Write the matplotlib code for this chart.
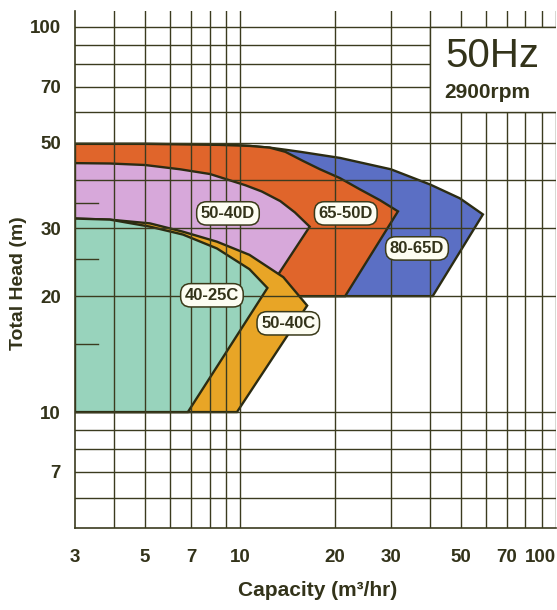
import matplotlib
matplotlib.use('Agg')
import matplotlib.pyplot as plt
from matplotlib.patches import Polygon, Rectangle

plt.rcParams['font.family'] = ['Liberation Sans', 'DejaVu Sans']

# pump areas, capacity m3/hr and head m
# top curve points, then the straight right edge down to the lowest head
q_80_65d = [3, 5, 8.63, 10.7, 12.4, 13.9, 15.5, 20.7, 30, 39.9, 49.6, 58.7]
h_80_65d = [49.7, 49.7, 49.6, 49.1, 48.6, 48.0, 47.4, 45.7, 42.7, 39.0, 35.9, 32.6]
low_80_65d = (40.7, 20)

q_65_50d = [3, 5, 8.63, 10.7, 12.4, 13.9, 15.8, 17.9, 20.7, 23.9, 27.7, 31.6]
h_65_50d = [49.7, 49.7, 49.4, 49.1, 48.6, 47.4, 44.9, 42.7, 40.5, 37.9, 35.5, 33.2]
low_65_50d = (21.5, 20)

q_50_40d = [3, 3.87, 5, 6.45, 8.03, 10.4, 11.7, 13.4, 14.9, 16.6]
h_50_40d = [44.3, 44.2, 43.8, 42.7, 41.5, 38.8, 37.4, 35.3, 33.0, 30.3]
low_50_40d = (11.9, 20)

q_50_40c = [3, 3.87, 5.18, 6.59, 8.44, 10.7, 13.7, 16.3]
h_50_40c = [31.8, 31.6, 30.9, 29.4, 27.7, 25.6, 22.4, 18.9]
low_50_40c = (9.77, 10)

q_40_25c = [3, 3.87, 5.18, 6.59, 8.44, 10.7, 12.2]
h_40_25c = [31.8, 31.6, 30.3, 28.9, 26.6, 23.5, 21.0]
low_40_25c = (6.83, 10)

models = ['80-65D', '65-50D', '50-40D', '50-40C', '40-25C']
label_q = [36.3, 21.6, 9.15, 14.2, 8.14]
label_h = [26.6, 32.8, 32.8, 17.0, 20.1]

x_ticks = [3, 5, 7, 10, 20, 30, 50, 70, 100]
y_ticks = [7, 10, 20, 30, 50, 70, 100]
x_grid = [4, 5, 6, 7, 8, 9, 10, 20, 30, 40, 50, 60, 70, 80, 90, 100]
y_grid = [6, 7, 8, 9, 10, 20, 30, 40, 50, 60, 70, 80, 90, 100]
y_short = [15, 25, 35]

colors = ['#5b6fc4', '#e0652b', '#d7a8da', '#e8a526', '#98d3bc']
grid_c = '#3b3b1f'
text_c = '#33331a'

fig = plt.figure(figsize=(5.57, 6.10), dpi=100)
ax = fig.add_axes([75 / 557, (610 - 528) / 610, 481 / 557, (528 - 11) / 610])
ax.set_xscale('log')
ax.set_yscale('log')
ax.set_xlim(3, 100)
ax.set_ylim(5, 110)

areas = [(q_80_65d, h_80_65d, low_80_65d), (q_65_50d, h_65_50d, low_65_50d),
         (q_50_40d, h_50_40d, low_50_40d), (q_50_40c, h_50_40c, low_50_40c),
         (q_40_25c, h_40_25c, low_40_25c)]
for i, ((q, h, low), c) in enumerate(zip(areas, colors)):
    pts = list(zip(q, h)) + [low, (3, low[1])]
    ax.add_patch(Polygon(pts, closed=True, fc=c, ec='#2b2b12', lw=1.7,
                         joinstyle='miter', zorder=1 + i * 0.1))

# grid over the areas
for x in x_grid:
    ax.axvline(x, color=grid_c, lw=1.0, zorder=2)
for y in y_grid:
    if 10 < y < 20:
        continue
    ax.axhline(y, color=grid_c, lw=1.0, zorder=2)
for y in y_short:
    ax.plot([3, 3.55], [y, y], color=grid_c, lw=1.0, zorder=2)

# frequency box
ax.add_patch(Rectangle((40, 60), 70, 40, fc='white', ec=grid_c, lw=1.0, zorder=4))
ax.text(63.1, 83.9, '50Hz', fontsize=29, color=text_c, ha='center', va='center', zorder=5)
ax.text(60.8, 67.6, '2900rpm', fontsize=15, fontweight='bold', color=text_c,
        ha='center', va='center', zorder=5)

for name, q, h in zip(models, label_q, label_h):
    ax.text(q, h, name, fontsize=12, fontweight='bold', color=text_c, ha='center', va='center',
            zorder=6, bbox=dict(boxstyle='round,pad=0.25,rounding_size=0.6', fc='#fdfdf2',
                                ec='#3a3a1a', lw=1.1))

ax.set_xticks(x_ticks)
ax.set_xticklabels([str(v) for v in x_ticks])
ax.set_yticks(y_ticks)
ax.set_yticklabels([str(v) for v in y_ticks])
ax.minorticks_off()
ax.tick_params(length=0, labelsize=13.5, labelcolor=text_c)
ax.tick_params(axis='x', pad=15)
ax.tick_params(axis='y', pad=10)
for lab in ax.get_xticklabels() + ax.get_yticklabels():
    lab.set_fontweight('bold')
ax.get_xticklabels()[-1].set_horizontalalignment('right')

for side in ['top', 'right']:
    ax.spines[side].set_visible(False)
ax.spines['left'].set_color(grid_c)
ax.spines['bottom'].set_color(grid_c)
ax.spines['left'].set_linewidth(1.2)
ax.spines['bottom'].set_linewidth(1.2)

fig.text(318 / 557, 1 - 591 / 610, 'Capacity (m³/hr)', fontsize=15, fontweight='bold',
         color=text_c, ha='center', va='center')
fig.text(19 / 557, 1 - 283 / 610, 'Total Head (m)', fontsize=14, fontweight='bold',
         color=text_c, ha='center', va='center', rotation=90)

fig.savefig('out.png', dpi=100)
